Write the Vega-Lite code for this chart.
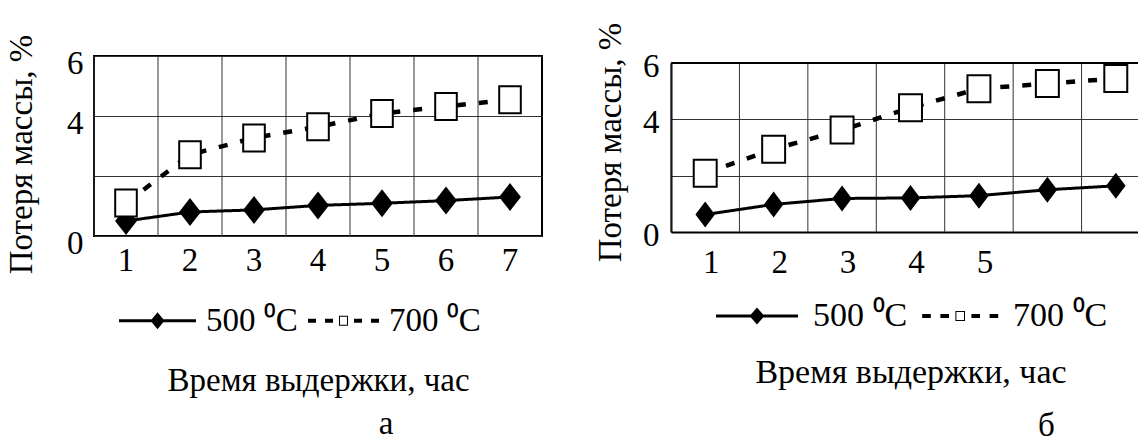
{
  "$schema": "https://vega.github.io/schema/vega-lite/v6.json",
  "background": "white",
  "padding": {"left": 4, "top": 22, "right": 0, "bottom": 0},
  "config": {
    "font": "Liberation Serif",
    "view": {"stroke": null},
    "axis": {"labelFont": "Liberation Serif", "labelFontSize": 33, "labelColor": "black", "titleFont": "Liberation Serif", "titleFontSize": 33, "titleFontWeight": "normal", "titleColor": "black", "ticks": false, "gridColor": "#333333", "gridOpacity": 1, "gridWidth": 1, "domainColor": "black", "domainWidth": 2},
    "legend": {"labelFont": "Liberation Serif", "labelFontSize": 33, "labelColor": "black", "symbolSize": 4, "padding": 0},
    "title": {"font": "Liberation Serif", "fontSize": 33, "fontWeight": "normal", "color": "black"}
  },
  "datasets": {
    "a": [
      {"t": 1, "v": 0.5, "s": "500 ⁰C"}, {"t": 2, "v": 0.8, "s": "500 ⁰C"}, {"t": 3, "v": 0.87, "s": "500 ⁰C"}, {"t": 4, "v": 1.02, "s": "500 ⁰C"}, {"t": 5, "v": 1.09, "s": "500 ⁰C"}, {"t": 6, "v": 1.18, "s": "500 ⁰C"}, {"t": 7, "v": 1.3, "s": "500 ⁰C"},
      {"t": 1, "v": 1.1, "s": "700 ⁰C"}, {"t": 2, "v": 2.71, "s": "700 ⁰C"}, {"t": 3, "v": 3.27, "s": "700 ⁰C"}, {"t": 4, "v": 3.64, "s": "700 ⁰C"}, {"t": 5, "v": 4.08, "s": "700 ⁰C"}, {"t": 6, "v": 4.32, "s": "700 ⁰C"}, {"t": 7, "v": 4.54, "s": "700 ⁰C"}
    ],
    "b": [
      {"t": 1, "v": 0.62, "s": "500 ⁰C"}, {"t": 2, "v": 0.98, "s": "500 ⁰C"}, {"t": 3, "v": 1.19, "s": "500 ⁰C"}, {"t": 4, "v": 1.21, "s": "500 ⁰C"}, {"t": 5, "v": 1.29, "s": "500 ⁰C"}, {"t": 6, "v": 1.5, "s": "500 ⁰C"}, {"t": 7, "v": 1.64, "s": "500 ⁰C"},
      {"t": 1, "v": 2.09, "s": "700 ⁰C"}, {"t": 2, "v": 2.94, "s": "700 ⁰C"}, {"t": 3, "v": 3.62, "s": "700 ⁰C"}, {"t": 4, "v": 4.41, "s": "700 ⁰C"}, {"t": 5, "v": 5.09, "s": "700 ⁰C"}, {"t": 6, "v": 5.27, "s": "700 ⁰C"}, {"t": 7, "v": 5.45, "s": "700 ⁰C"}
    ]
  },
  "spacing": 51,
  "resolve": {"scale": {"x": "independent", "y": "independent", "shape": "independent"}, "legend": {"shape": "independent"}},
  "hconcat": [
    {
      "width": 448,
      "height": 180,
      "view": {"stroke": "black", "strokeWidth": 2},
      "data": {"name": "a"},
      "title": {"text": "а", "orient": "bottom", "anchor": "middle", "frame": "group", "dx": 68, "offset": 11},
      "layer": [
        {
          "transform": [{"filter": "datum.s === '500 ⁰C'"}],
          "mark": {"type": "rule", "stroke": "#333333", "strokeWidth": 1},
          "encoding": {
            "x": {"field": "t", "type": "ordinal", "bandPosition": 0},
            "y": {"datum": 0},
            "y2": {"datum": 6}
          }
        },
        {
          "mark": {"type": "line", "color": "black"},
          "encoding": {
            "x": {"field": "t", "type": "ordinal", "scale": {"type": "band", "paddingInner": 0, "paddingOuter": 0},
              "axis": {"bandPosition": 0.5, "labelAngle": 0, "labelAlign": "center", "labelPadding": 24, "domain": false, "grid": false, "title": "Время выдержки, час", "titleY": 154, "titleBaseline": "alphabetic"}},
            "y": {"field": "v", "type": "quantitative", "scale": {"domain": [0, 6], "nice": false},
              "axis": {"values": [0, 2, 4, 6], "labelExpr": "datum.value == 2 ? '' : datum.label", "grid": true, "domain": false, "labelPadding": 11, "labelOffset": 7, "title": "Потеря массы, %", "titlePadding": 28, "titleY": 98}},
            "detail": {"field": "s", "type": "nominal"},
            "strokeDash": {"condition": {"test": "datum.s === '700 ⁰C'", "value": [9, 13]}, "value": [1, 0]},
            "strokeWidth": {"condition": {"test": "datum.s === '700 ⁰C'", "value": 4.5}, "value": 3}
          }
        },
        {
          "mark": {"type": "point", "filled": true, "color": "black", "opacity": 0, "size": 0, "strokeWidth": 0},
          "encoding": {
            "x": {"field": "t", "type": "ordinal"},
            "y": {"field": "v", "type": "quantitative"},
            "shape": {"field": "s", "type": "nominal",
              "scale": {"domain": ["500 ⁰C", "700 ⁰C"], "range": ["M-38.5,-1.5H38.5V1.5H-38.5Z M0,-8.5L7,0L0,8.5L-7,0Z", "M-32.5,-2H-24.5V2H-32.5Z M-15.5,-2H-7.5V2H-15.5Z M13.5,-2H21.5V2H13.5Z M30.5,-2H38.5V2H30.5Z M-1.5,-5H7.5V5H-1.5Z M-0.5,-4V4H6.5V-4Z"]},
              "legend": {"title": null, "orient": "none", "direction": "horizontal", "legendX": 25, "legendY": 248, "symbolOffset": 22, "labelOffset": 32, "columnPadding": 4, "symbolSize": 4, "symbolStrokeWidth": 0, "symbolOpacity": 1}}
          }
        },
        {
          "transform": [{"filter": "datum.s === '500 ⁰C'"}],
          "mark": {"type": "point", "shape": "M0,-1L0.78,0L0,1L-0.78,0Z", "size": 784, "filled": true, "fill": "black", "opacity": 1, "strokeWidth": 0},
          "encoding": {"x": {"field": "t", "type": "ordinal"}, "y": {"field": "v", "type": "quantitative"}}
        },
        {
          "transform": [{"filter": "datum.s === '700 ⁰C'"}],
          "mark": {"type": "point", "shape": "M-0.8,-1H0.8V1H-0.8Z", "size": 729, "filled": true, "fill": "white", "stroke": "black", "strokeWidth": 2, "opacity": 1},
          "encoding": {"x": {"field": "t", "type": "ordinal"}, "y": {"field": "v", "type": "quantitative"}}
        }
      ]
    },
    {
      "width": 479,
      "height": 176,
      "data": {"name": "b"},
      "title": {"text": "б", "orient": "bottom", "anchor": "middle", "frame": "group", "dx": 136, "offset": 21},
      "layer": [
        {
          "transform": [{"filter": "datum.s === '500 ⁰C'"}],
          "mark": {"type": "rule", "stroke": "#333333", "strokeWidth": 1},
          "encoding": {
            "x": {"field": "t", "type": "ordinal", "bandPosition": 0},
            "y": {"datum": 0},
            "y2": {"datum": 6}
          }
        },
        {
          "mark": {"type": "rule", "color": "black", "strokeWidth": 2},
          "encoding": {"y": {"datum": 6}}
        },
        {
          "mark": {"type": "line", "color": "black"},
          "encoding": {
            "x": {"field": "t", "type": "ordinal", "scale": {"type": "band", "paddingInner": 0, "paddingOuter": 0},
              "axis": {"bandPosition": 0.5, "labelAngle": 0, "labelAlign": "center", "labelPadding": 30, "labelOffset": 6, "domain": true, "grid": false, "labelExpr": "datum.value >= 6 ? '' : datum.label", "title": "Время выдержки, час", "titleFontSize": 34, "titleY": 150, "titleBaseline": "alphabetic"}},
            "y": {"field": "v", "type": "quantitative", "scale": {"domain": [0, 6], "nice": false, "range": [176, 7]},
              "axis": {"values": [0, 2, 4, 6], "labelExpr": "datum.value == 2 ? '' : datum.label", "grid": true, "domain": true, "labelPadding": 12, "labelOffset": 3, "title": "Потеря массы, %", "titlePadding": 15, "titleY": 86}},
            "detail": {"field": "s", "type": "nominal"},
            "strokeDash": {"condition": {"test": "datum.s === '700 ⁰C'", "value": [9, 13]}, "value": [1, 0]},
            "strokeWidth": {"condition": {"test": "datum.s === '700 ⁰C'", "value": 4.5}, "value": 3}
          }
        },
        {
          "mark": {"type": "point", "filled": true, "color": "black", "opacity": 0, "size": 0, "strokeWidth": 0},
          "encoding": {
            "x": {"field": "t", "type": "ordinal"},
            "y": {"field": "v", "type": "quantitative"},
            "shape": {"field": "s", "type": "nominal",
              "scale": {"domain": ["500 ⁰C", "700 ⁰C"], "range": ["M-41,-1.5H41V1.5H-41Z M0,-8.5L7.5,0L0,8.5L-7.5,0Z", "M-34.8,-2H-26.2V2H-34.8Z M-16.6,-2H-8V2H-16.6Z M14.4,-2H23V2H14.4Z M32.6,-2H41.2V2H32.6Z M-1.6,-5H8V5H-1.6Z M-0.6,-4V4H7V-4Z"]},
              "legend": {"title": null, "orient": "none", "direction": "horizontal", "legendX": 45, "legendY": 243, "symbolOffset": 24, "labelOffset": 39, "columnPadding": 8, "symbolSize": 4, "labelFontSize": 34, "symbolStrokeWidth": 0, "symbolOpacity": 1}}
          }
        },
        {
          "transform": [{"filter": "datum.s === '500 ⁰C'"}],
          "mark": {"type": "point", "shape": "M0,-1L0.75,0L0,1L-0.75,0Z", "size": 676, "filled": true, "fill": "black", "opacity": 1, "strokeWidth": 0},
          "encoding": {"x": {"field": "t", "type": "ordinal"}, "y": {"field": "v", "type": "quantitative"}}
        },
        {
          "transform": [{"filter": "datum.s === '700 ⁰C'"}],
          "mark": {"type": "point", "shape": "M-0.85,-1H0.85V1H-0.85Z", "size": 729, "filled": true, "fill": "white", "stroke": "black", "strokeWidth": 2, "opacity": 1},
          "encoding": {"x": {"field": "t", "type": "ordinal"}, "y": {"field": "v", "type": "quantitative"}}
        }
      ]
    }
  ]
}
